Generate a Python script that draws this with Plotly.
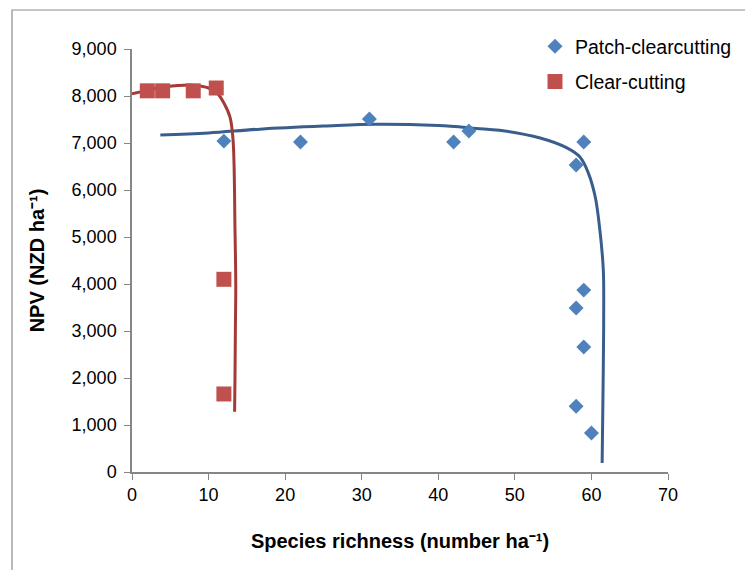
import plotly.graph_objects as go

# Data
patch_x = [12, 22, 31, 42, 44, 58, 59, 58, 59, 59, 58, 60]
patch_y = [7040, 7020, 7510, 7020, 7255, 6530, 7020, 3490, 3870, 2660, 1400, 830]

clear_x = [2, 4, 8, 11, 12, 12]
clear_y = [8110, 8110, 8110, 8170, 4100, 1660]

# Trendlines
patch_trend_x = [3.7, 10, 16.7, 25, 32, 40, 45, 48, 53.3, 56.8, 58.5, 59.6, 60.5, 61.1, 61.55, 61.6, 61.55, 61.4]
patch_trend_y = [7170, 7215, 7295, 7360, 7400, 7370, 7310, 7270, 7105, 6895, 6700, 6360, 5850, 5150, 4300, 3300, 2200, 190]

clear_trend_x = [0, 2, 4, 6, 7.6, 9, 10, 11.1, 12, 12.8, 13.2, 13.45, 13.55, 13.5, 13.45, 13.4]
clear_trend_y = [8045, 8120, 8190, 8225, 8235, 8210, 8170, 8065, 7850, 7550, 7060, 5150, 4000, 3000, 2000, 1280]

x_ticks = [0, 10, 20, 30, 40, 50, 60, 70]
y_ticks = [0, 1000, 2000, 3000, 4000, 5000, 6000, 7000, 8000, 9000]

BLUE = "#4F81BD"
RED = "#C0504D"
BLUE_LINE = "#3A5E8C"
RED_LINE = "#A33A36"
AXIS = "#868686"
FONT = "Liberation Sans, Arial, sans-serif"

# page body adds an 8px offset; compensate in margins
L, T = 124, 41
PW, PH = 536, 423

fig = go.Figure()

fig.add_trace(go.Scatter(
    x=patch_trend_x, y=patch_trend_y, mode="lines",
    line=dict(color=BLUE_LINE, width=3, shape="spline", smoothing=1.0),
    showlegend=False, hoverinfo="skip"))
fig.add_trace(go.Scatter(
    x=clear_trend_x, y=clear_trend_y, mode="lines",
    line=dict(color=RED_LINE, width=3, shape="spline", smoothing=1.0),
    showlegend=False, hoverinfo="skip"))

fig.add_trace(go.Scatter(
    x=patch_x, y=patch_y, mode="markers", name="Patch-clearcutting",
    legendgroup="a",
    marker=dict(symbol="diamond", size=11.5, color=BLUE, line=dict(width=0))))
fig.add_trace(go.Scatter(
    x=clear_x, y=clear_y, mode="markers", name="Clear-cutting",
    legendgroup="b",
    marker=dict(symbol="square", size=15, color=RED, line=dict(width=0))))

def px_x(p):
    return (p - L) / PW

def px_y(p):
    return (T + PH - p) / PH

fig.update_layout(
    width=753, height=570,
    margin=dict(l=L, r=753 - L - PW, t=T, b=570 - T - PH, autoexpand=False),
    paper_bgcolor="white", plot_bgcolor="white",
    font=dict(family=FONT, size=17, color="black"),
    legend=dict(x=px_x(527), y=px_y(19), xanchor="left", yanchor="top",
                font=dict(size=19.5, color="black"),
                bgcolor="rgba(0,0,0,0)", tracegroupgap=7,
                traceorder="grouped"),
    xaxis=dict(range=[0, 70], tickvals=x_ticks, showgrid=False, zeroline=False,
               showline=True, linecolor=AXIS, linewidth=1.5,
               ticks="outside", ticklen=6, tickcolor=AXIS, tickwidth=1,
               tickfont=dict(size=18),
               title=dict(text="<b>Species richness (number ha⁻¹)</b>",
                          font=dict(size=20), standoff=30)),
    yaxis=dict(range=[0, 9000], tickvals=y_ticks, tickformat=",", showgrid=False,
               zeroline=False, showline=True, linecolor=AXIS, linewidth=1.5,
               ticks="outside", ticklen=6, tickcolor=AXIS, tickwidth=1,
               tickfont=dict(size=18), ticklabelstandoff=4,
               title=dict(text="<b>NPV (NZD ha⁻¹)</b>",
                          font=dict(size=20), standoff=22)),
    shapes=[dict(type="rect", xref="paper", yref="paper",
                 x0=px_x(4), x1=px_x(780),
                 y0=px_y(600), y1=px_y(2),
                 line=dict(color="#8C8C8C", width=1.2), layer="below")],
)

fig.write_html("out.html")
